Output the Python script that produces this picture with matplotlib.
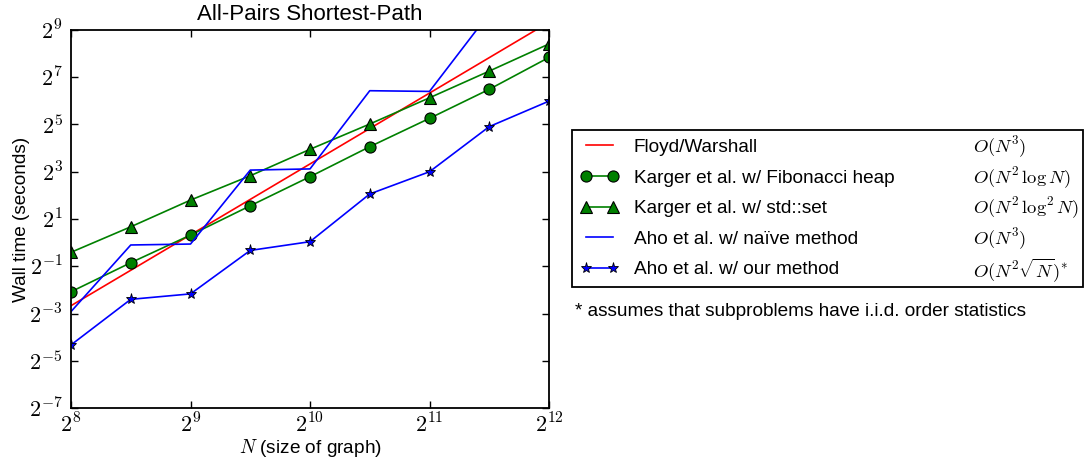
import numpy as np
import matplotlib
matplotlib.use('Agg')
import matplotlib.pyplot as plt

plt.rcParams['font.family'] = ['Liberation Sans', 'DejaVu Sans']
plt.rcParams['mathtext.fontset'] = 'cm'

# log2 of graph size N
log_n = [8, 8.5, 9, 9.5, 10, 10.5, 11, 11.5, 12]

# log2 of wall time (seconds)
floyd = [-2.67, -1.17, 0.33, 1.83, 3.33, 4.83, 6.33, 7.83, 9.33]
karger_fib = [-2.08, -0.85, 0.32, 1.56, 2.79, 4.06, 5.26, 6.49, 7.84]
karger_set = [-0.41, 0.67, 1.80, 2.83, 3.95, 5.02, 6.13, 7.26, 8.41]
aho_naive = [-2.92, -0.10, -0.06, 3.07, 3.12, 6.43, 6.40, 9.70, 11.2]
aho_ours = [-4.33, -2.40, -2.17, -0.33, 0.04, 2.06, 3.00, 4.91, 5.99]

names = ['Floyd/Warshall',
         'Karger et al. w/ Fibonacci heap',
         'Karger et al. w/ std::set',
         'Aho et al. w/ na\u00efve method',
         'Aho et al. w/ our method']
complexity = [r'$O(N^3)$',
              r'$O(N^2\,\log N)$',
              r'$O(N^2\,\log^2 N)$',
              r'$O(N^3)$',
              r'$O(N^2\sqrt{N})^{*}$']

x = 2.0 ** np.array(log_n)

fig = plt.figure(figsize=(10.84, 4.59), dpi=100)
ax = fig.add_axes([71/1084, 1 - 408/459, 478/1084, 378/459])

ax.plot(x, 2.0 ** np.array(floyd), 'r-', lw=1.2, label=names[0])
ax.plot(x, 2.0 ** np.array(karger_fib), 'g-o', lw=1.2, ms=8, mec='k', mew=0.8, label=names[1])
ax.plot(x, 2.0 ** np.array(karger_set), 'g-^', lw=1.2, ms=8, mec='k', mew=0.8, label=names[2])
ax.plot(x, 2.0 ** np.array(aho_naive), 'b-', lw=1.2, label=names[3])
ax.plot(x, 2.0 ** np.array(aho_ours), 'b-*', lw=1.2, ms=8, mec='k', mew=0.6, label=names[4])

ax.set_xscale('log', base=2)
ax.set_yscale('log', base=2)
ax.set_xlim(2**8, 2**12)
ax.set_ylim(2**-7, 2**9)
ax.set_xticks([2.0**k for k in range(8, 13)])
ax.set_xticklabels([r'$2^{%d}$' % k for k in range(8, 13)])
ax.set_yticks([2.0**k for k in range(-7, 10, 2)])
ax.set_yticklabels([r'$2^{%d}$' % k for k in range(-7, 10, 2)])
ax.minorticks_off()
ax.tick_params(direction='in', top=True, right=True, length=5, width=1, labelsize=16)
ax.tick_params(axis='x', pad=4)
ax.tick_params(axis='y', pad=6)
for s in ax.spines.values():
    s.set_linewidth(1.3)

ax.set_title('All-Pairs Shortest-Path', fontsize=16, pad=7)
ax.set_xlabel('$N$ (size of graph)', fontsize=13.7)
ax.set_ylabel('Wall time (seconds)', fontsize=13.7)
ax.xaxis.set_label_coords(0.5, -0.078)
ax.yaxis.set_label_coords(-0.086, 0.5)

leg = fig.legend(loc='upper left', bbox_to_anchor=(572/1084, 1 - 130/459, 511/1084, 0.0),
                 mode='expand', borderaxespad=0, fontsize=13.7, numpoints=2,
                 handlelength=2.0, handletextpad=0.8, labelspacing=0.7, borderpad=0.45,
                 fancybox=False, framealpha=1, edgecolor='k')
leg.get_frame().set_linewidth(1.3)

fig.canvas.draw()
inv = fig.transFigure.inverted()
for t, c in zip(leg.get_texts(), complexity):
    bb = t.get_window_extent()
    yc = inv.transform(((bb.x0 + bb.x1) / 2, (bb.y0 + bb.y1) / 2))[1]
    fig.text(973/1084, yc, c, fontsize=13.4, va='center', ha='left', zorder=10)

fig.text(575/1084, 1 - 311/459, '* assumes that subproblems have i.i.d. order statistics',
         fontsize=13.7, va='center', ha='left')

fig.savefig('out.png', dpi=100)
